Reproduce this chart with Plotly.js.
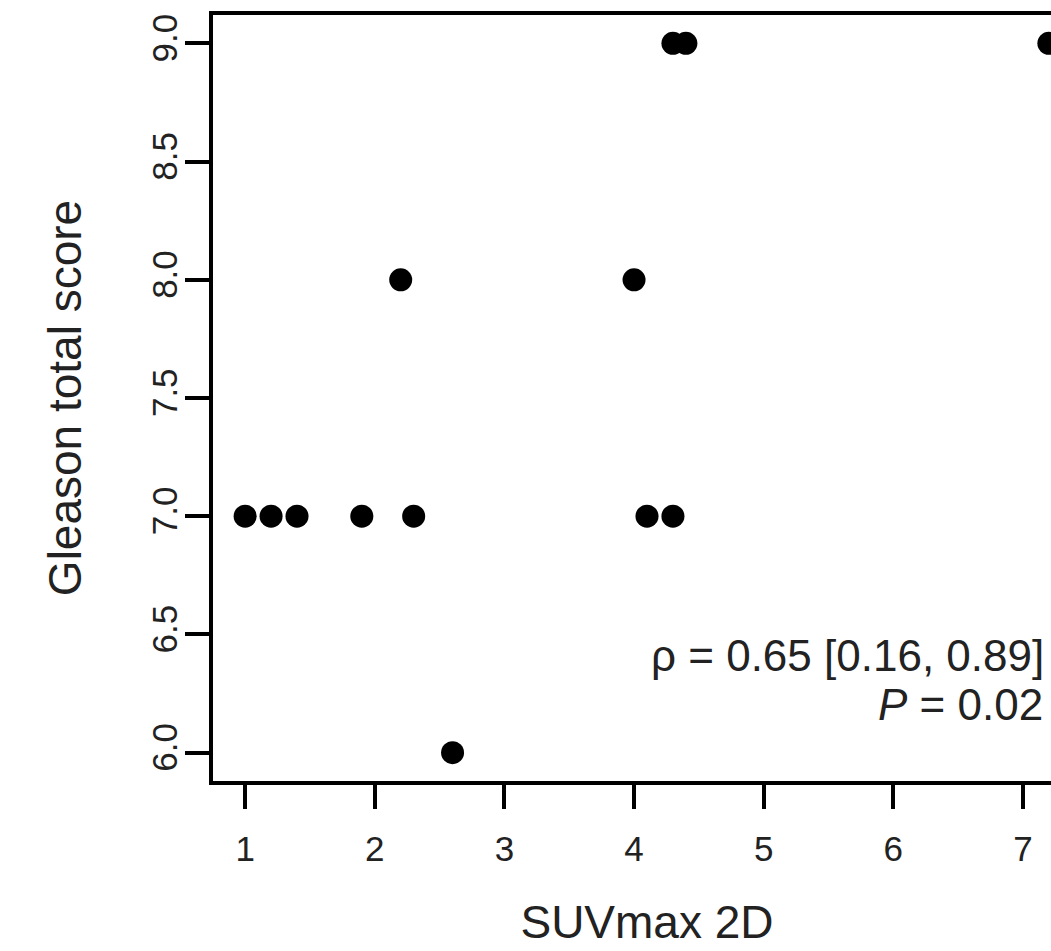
<!DOCTYPE html>
<html>
<head>
<meta charset="utf-8">
<script src="https://cdn.plot.ly/plotly-3.0.1.min.js"></script>
<style>
  html, body { margin: 0; padding: 0; background: #fff; overflow: hidden; }
  #plot { width: 1110px; height: 951px; }
</style>
</head>
<body>
<div id="plot"></div>
<script>
// SUVmax (2D) against Gleason total score, one point per patient
const suvmax2D = [1.0, 1.2, 1.4, 1.9, 2.3, 4.1, 4.3, 2.2, 4.0, 2.6, 4.3, 4.4, 7.2];
const gleasonScore = [7, 7, 7, 7, 7, 7, 7, 8, 8, 6, 9, 9, 9];

const xTicks = [1, 2, 3, 4, 5, 6, 7];
const yTicks = [6.0, 6.5, 7.0, 7.5, 8.0, 8.5, 9.0];
const yTickLabels = ["6.0", "6.5", "7.0", "7.5", "8.0", "8.5", "9.0"];

const corrLine = "\u03C1 = 0.65 [0.16, 0.89]";
const pLine = "<i>P</i> = 0.02";

const FONT = "Liberation Sans, Arial, Helvetica, sans-serif";

const trace = {
  x: suvmax2D,
  y: gleasonScore,
  type: "scatter",
  mode: "markers",
  marker: { color: "#000", size: 23, line: { width: 0 } },
  hoverinfo: "x+y",
  showlegend: false
};

const axisCommon = {
  showgrid: false,
  zeroline: false,
  showline: true,
  mirror: true,
  linecolor: "#000",
  linewidth: 4,
  ticks: "outside",
  ticklen: 24,
  tickwidth: 4,
  tickcolor: "#000",
  tickfont: { family: FONT, size: 35, color: "#222" }
};

const layout = {
  width: 1110,
  height: 951,
  margin: { l: 213, r: 29, t: 15, b: 170, pad: 0 },
  paper_bgcolor: "#fff",
  plot_bgcolor: "#fff",
  font: { family: FONT, color: "#222" },
  xaxis: Object.assign({}, axisCommon, {
    range: [0.752, 7.448],
    tickmode: "array",
    tickvals: xTicks,
    ticktext: xTicks.map(String),
    ticklabelstandoff: 10,
    title: { text: "SUVmax 2D", font: { family: FONT, size: 46, color: "#222" }, standoff: 40 }
  }),
  yaxis: Object.assign({}, axisCommon, {
    range: [5.88, 9.12],
    tickmode: "array",
    tickvals: yTicks,
    ticktext: yTickLabels,
    tickangle: -90,
    ticklabelstandoff: -6,
    title: { text: "Gleason total score", font: { family: FONT, size: 46, color: "#222" }, standoff: 50 }
  }),
  annotations: [
    {
      x: 7.18, y: 6.41, xref: "x", yref: "y",
      xanchor: "right", yanchor: "middle",
      text: corrLine, showarrow: false,
      font: { family: FONT, size: 44, color: "#222" }
    },
    {
      x: 7.17, y: 6.205, xref: "x", yref: "y",
      xanchor: "right", yanchor: "middle",
      text: pLine, showarrow: false,
      font: { family: FONT, size: 44, color: "#222" }
    }
  ]
};

Plotly.newPlot("plot", [trace], layout, { displayModeBar: false, staticPlot: true });
</script>
</body>
</html>
